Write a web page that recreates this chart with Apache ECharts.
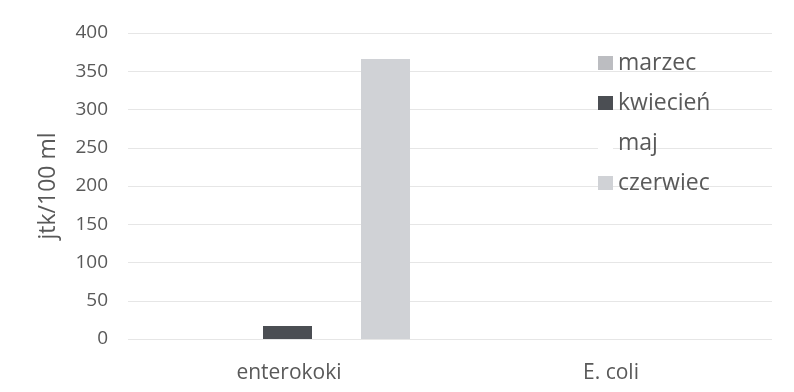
<!DOCTYPE html>
<html>
<head>
<meta charset="utf-8">
<script src="https://cdn.jsdelivr.net/npm/echarts@6/dist/echarts.min.js"></script>
<style>
    html, body { margin: 0; padding: 0; background: #fff; }
    #chart { width: 794px; height: 392px; }
</style>
</head>
<body>
<div id="chart"></div>
<script>
    // dane
    var categories = ['enterokoki', 'E. coli'];
    var months = ['marzec', 'kwiecień', 'maj', 'czerwiec'];
    var marzec = [0, 0];
    var kwiecien = [17, 0];
    var maj = [0, 0];
    var czerwiec = [366, 0];
    var yTicks = [0, 50, 100, 150, 200, 250, 300, 350, 400];

    var colors = ['#bcbdc1', '#4b4e53', '#ffffff', '#d0d2d6'];
    var values = [marzec, kwiecien, maj, czerwiec];

    // słupki rysowane na drugiej siatce (przesunięte jak w oryginale)
    var series = [];
    for (var i = 0; i < months.length; i++) {
        series.push({
            name: months[i],
            type: 'bar',
            xAxisIndex: 1,
            yAxisIndex: 1,
            data: values[i],
            barWidth: 49,
            barGap: '0%',
            itemStyle: {color: colors[i]}
        });
    }

    var yMin = yTicks[0];
    var yMax = yTicks[yTicks.length - 1];

    var myChart = echarts.init(document.getElementById('chart'));
    myChart.setOption({
        animation: false,
        backgroundColor: '#fff',
        textStyle: {fontFamily: 'Open Sans'},
        grid: [
            {left: 128, right: 22, top: 33, bottom: 53},
            {left: 152, right: 2, top: 33, bottom: 53}
        ],
        legend: {
            orient: 'vertical',
            left: 593,
            top: 45,
            itemWidth: 15,
            itemHeight: 14,
            itemGap: 14,
            icon: 'rect',
            data: months,
            textStyle: {color: '#595959', fontSize: 23, lineHeight: 26}
        },
        xAxis: [{
            type: 'category',
            gridIndex: 0,
            data: categories,
            axisLine: {show: false},
            axisTick: {show: false},
            axisLabel: {color: '#595959', fontSize: 21, margin: 24}
        }, {
            type: 'category',
            gridIndex: 1,
            data: categories,
            show: false
        }],
        yAxis: [{
            type: 'value',
            gridIndex: 0,
            min: yMin,
            max: yMax,
            interval: 50,
            name: 'jtk/100 ml',
            nameLocation: 'middle',
            nameGap: 68,
            nameTextStyle: {color: '#595959', fontSize: 23},
            axisLine: {show: false},
            axisTick: {show: false},
            axisLabel: {color: '#595959', fontSize: 19, margin: 20},
            splitLine: {lineStyle: {color: '#e6e6e6', width: 1}}
        }, {
            type: 'value',
            gridIndex: 1,
            min: yMin,
            max: yMax,
            interval: 50,
            show: false
        }],
        series: series
    });
</script>
</body>
</html>
